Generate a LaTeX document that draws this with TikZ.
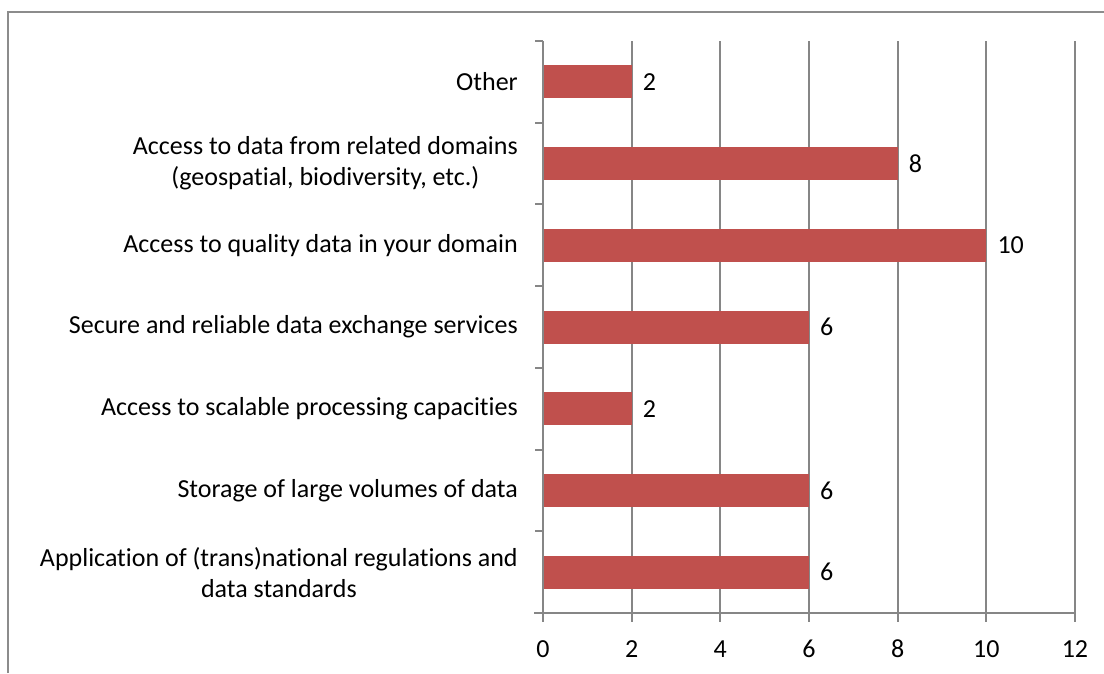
\documentclass[tikz,border=0pt]{standalone}
\usepackage{fontspec}
\setmainfont[RawFeature={-liga;-clig;-dlig}]{Carlito}
\definecolor{barred}{HTML}{C0504D}
\definecolor{gridgray}{HTML}{868686}
\definecolor{framegray}{HTML}{8C8C8C}
\tikzset{
  cat/.style={anchor=east, align=center, font=\fontsize{26}{31}\selectfont, inner sep=0pt},
  val/.style={anchor=west, font=\fontsize{26}{31}\selectfont, inner sep=0pt},
  tick/.style={anchor=center, font=\fontsize{26}{31}\selectfont, inner sep=0pt},
  bar/.style={fill=barred, draw=none},
  gridline/.style={draw=gridgray, line width=2pt},
}
\begin{document}
\begin{tikzpicture}[x=1pt,y=-1pt]
\useasboundingbox (0,0) rectangle (1104,673);
\fill[white] (0,0) rectangle (1104,673);
% frame
\draw[framegray, line width=2.2pt] (8,673) -- (8,12) -- (1104,12);
% vertical grid lines
\foreach \v in {2,4,6,8,10,12}{
  \draw[gridline] ({543+\v*44.33},41) -- ({543+\v*44.33},622);
}
% bars
\foreach \i/\v in {0/2,1/8,2/10,3/6,4/2,5/6,6/6}{
  \pgfmathsetmacro{\yc}{41+(\i+0.5)*81.714}
  \fill[bar] (543,{\yc-16.5}) rectangle ({543+\v*44.33},{\yc+16.5});
  \node[val] at ({543+\v*44.33+11},\yc) {\v};
}
% axes
\draw[gridline] (543,41) -- (543,622);
\draw[gridline] (534,613) -- (1075,613);
\foreach \i in {0,...,6}{
  \draw[gridline] (535,{41+\i*81.714}) -- (543,{41+\i*81.714});
}
% tick labels
\foreach \v in {0,2,...,12}{
  \node[tick] at ({543+\v*44.33},649) {\v};
}
% category labels
\node[cat] (c0) at (518,{41+0.5*81.714}) {Other};
\node[cat] (c1) at (518,{41+1.5*81.714}) {Access to data from related domains\\(geospatial, biodiversity, etc.)};
\node[cat] (c2) at (518,{41+2.5*81.714}) {Access to quality data in your domain};
\node[cat] (c3) at (518,{41+3.5*81.714}) {Secure and reliable data exchange services};
\node[cat] (c4) at (518,{41+4.5*81.714}) {Access to scalable processing capacities};
\node[cat] (c5) at (518,{41+5.5*81.714}) {Storage of large volumes of data};
\node[cat] (c6) at (518,{41+6.5*81.714}) {Application of (trans)national regulations and\\data standards};
\end{tikzpicture}
\end{document}
